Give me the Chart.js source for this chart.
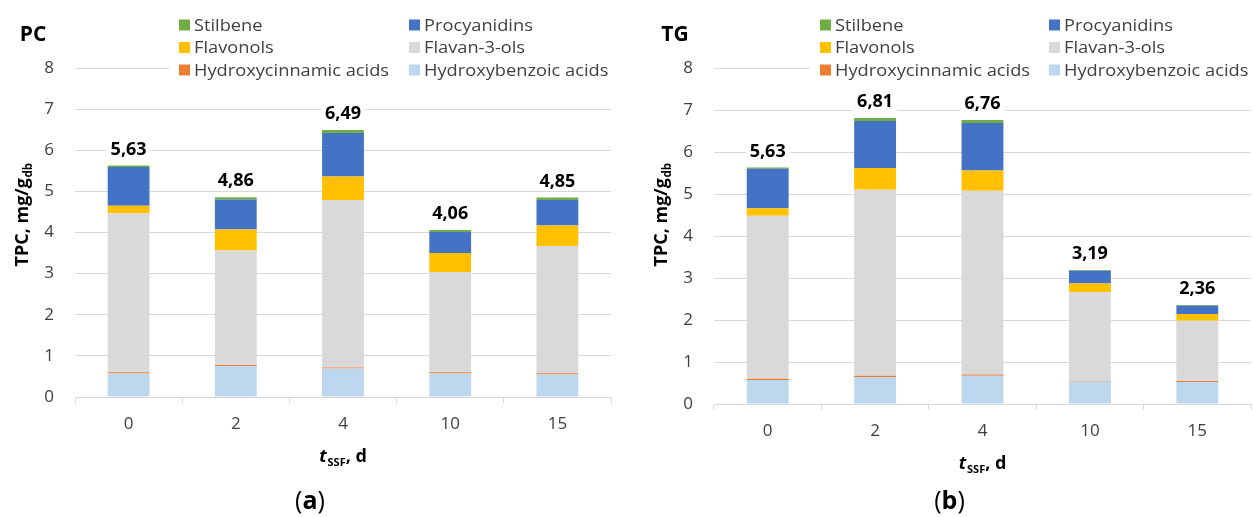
<!DOCTYPE html>
<html>
<head>
<meta charset="utf-8">
<script src="https://cdn.jsdelivr.net/npm/chart.js@4.4.1/dist/chart.umd.min.js"></script>
<style>
  html, body { margin: 0; padding: 0; background: #fff; }
  #wrap { position: relative; width: 1253px; height: 517px; overflow: hidden; background: #fff; }
  canvas { position: absolute; top: 0; }
</style>
</head>
<body>
<div id="wrap">
  <canvas id="pc" width="625" height="517" style="left:0px"></canvas>
  <canvas id="tg" width="628" height="517" style="left:625px"></canvas>
</div>
<script>
// Fermentation time (days) on the x axis
const days = ['0', '2', '4', '10', '15'];
const yTickMax = 8;

// Phenolic groups, stacked bottom to top
const groupNames = ['Hydroxybenzoic acids', 'Hydroxycinnamic acids', 'Flavan-3-ols', 'Flavonols', 'Procyanidins', 'Stilbene'];
const groupColors = ['#BDD7EE', '#ED7D31', '#D9D9D9', '#FFC000', '#4472C4', '#70AD47'];
// Legend reading order (row by row, two columns)
const legendOrder = ['Stilbene', 'Procyanidins', 'Flavonols', 'Flavan-3-ols', 'Hydroxycinnamic acids', 'Hydroxybenzoic acids'];

// PC, mg/g db
const pcHydroxybenzoic = [0.57, 0.75, 0.69, 0.57, 0.55];
const pcHydroxycinnamic = [0.03, 0.03, 0.03, 0.03, 0.03];
const pcFlavan3ols = [3.87, 2.78, 4.07, 2.44, 3.09];
const pcFlavonols = [0.18, 0.51, 0.57, 0.46, 0.50];
const pcProcyanidins = [0.94, 0.73, 1.06, 0.51, 0.62];
const pcStilbene = [0.04, 0.06, 0.07, 0.05, 0.06];

// TG, mg/g db
const tgHydroxybenzoic = [0.57, 0.64, 0.67, 0.53, 0.52];
const tgHydroxycinnamic = [0.03, 0.03, 0.03, 0.01, 0.03];
const tgFlavan3ols = [3.88, 4.43, 4.38, 2.12, 1.43];
const tgFlavonols = [0.18, 0.52, 0.48, 0.21, 0.16];
const tgProcyanidins = [0.94, 1.12, 1.13, 0.30, 0.20];
const tgStilbene = [0.03, 0.07, 0.07, 0.02, 0.02];

const FONT = "'Open Sans', 'Noto Sans', sans-serif";
const TEXT = '#404040';

// Titles, legend, axis titles with subscripts and stack totals
const decorations = {
  id: 'decorations',
  afterDraw(chart, args, o) {
    const ctx = chart.ctx;
    const area = chart.chartArea;
    const xs = chart.scales.x, ys = chart.scales.y;
    ctx.save();

    // panel name
    ctx.fillStyle = '#000';
    ctx.font = `bold 21px ${FONT}`;
    ctx.textAlign = 'center';
    ctx.textBaseline = 'middle';
    ctx.fillText(o.name, o.nameX, 35);

    // legend (two columns, covering the top gridline)
    ctx.fillStyle = '#fff';
    ctx.fillRect(o.legendX - 10, 58, area.right - (o.legendX - 10), 22);
    ctx.font = `16px ${FONT}`;
    ctx.textAlign = 'left';
    legendOrder.forEach((name, i) => {
      const col = i % 2, row = Math.floor(i / 2);
      const bx = col === 0 ? o.legendX : o.legendX2;
      const cy = 25 + row * 22.5;
      ctx.fillStyle = groupColors[groupNames.indexOf(name)];
      ctx.fillRect(bx, cy - 5.5, 11, 11);
      ctx.fillStyle = TEXT;
      ctx.save();
      ctx.translate(bx + 15, cy + 1);
      ctx.scale(1.14, 1);
      ctx.fillText(name, 0, 0);
      ctx.restore();
    });

    // y axis title: TPC, mg/g_db
    ctx.save();
    ctx.translate(area.left - 53, 215);
    ctx.rotate(-Math.PI / 2);
    ctx.fillStyle = '#000';
    ctx.textAlign = 'left';
    ctx.textBaseline = 'alphabetic';
    const mainF = `bold 18px ${FONT}`, subF = `bold 11.5px ${FONT}`;
    ctx.font = mainF; const w1 = ctx.measureText('TPC, mg/g').width;
    ctx.font = subF; const w2 = ctx.measureText('db').width;
    let x0 = -(w1 + w2) / 2;
    ctx.font = mainF; ctx.fillText('TPC, mg/g', x0, 6);
    ctx.font = subF; ctx.fillText('db', x0 + w1 + 0.5, 10);
    ctx.restore();

    // x axis title: t_SSF, d
    {
      const cx = (area.left + area.right) / 2;
      const by = area.bottom + 65;
      const fT = `italic bold 18px ${FONT}`, fS = `bold 11px ${FONT}`, fD = `bold 18px ${FONT}`;
      ctx.fillStyle = '#000';
      ctx.textBaseline = 'alphabetic';
      ctx.font = fT; const a = ctx.measureText('t').width;
      ctx.font = fS; const b = ctx.measureText('SSF').width;
      ctx.font = fD; const c = ctx.measureText(', d').width;
      let x = cx - (a + b + c + 1) / 2;
      ctx.font = fT; ctx.fillText('t', x, by); x += a + 1;
      ctx.font = fS; ctx.fillText('SSF', x, by + 4); x += b;
      ctx.font = fD; ctx.fillText(', d', x, by);
    }

    // panel letter (a) / (b)
    {
      const cx = (area.left + area.right) / 2 - 33;
      const by = 509;
      const fR = `25px ${FONT}`, fB = `bold 25px ${FONT}`;
      ctx.fillStyle = '#000';
      ctx.font = fR; const p = ctx.measureText('(').width, q = ctx.measureText(')').width;
      ctx.font = fB; const l = ctx.measureText(o.letter).width;
      let x = cx - (p + l + q) / 2;
      ctx.font = fR; ctx.fillText('(', x, by); x += p;
      ctx.font = fB; ctx.fillText(o.letter, x, by); x += l;
      ctx.font = fR; ctx.fillText(')', x, by);
    }

    // stack totals above each bar
    ctx.font = `bold 18px ${FONT}`;
    ctx.textAlign = 'center';
    ctx.textBaseline = 'middle';
    ctx.fillStyle = '#000';
    chart.data.labels.forEach((lab, i) => {
      const total = chart.data.datasets.reduce((s, d) => s + d.data[i], 0);
      const txt = total.toFixed(2).replace('.', ',');
      const px = xs.getPixelForValue(i);
      const py = ys.getPixelForValue(total) - 16;
      const tw = ctx.measureText(txt).width;
      ctx.save();
      ctx.fillStyle = '#fff';
      ctx.fillRect(px - tw / 2 - 4, py - 9, tw + 8, 18);
      ctx.restore();
      ctx.fillText(txt, px, py);
    });

    ctx.restore();
  }
};

function buildChart(id, series, opts) {
  const datasets = groupNames.map((name, i) => ({
    label: name,
    data: series[i],
    backgroundColor: groupColors[i],
    borderWidth: 0,
    barPercentage: 0.39,
    categoryPercentage: 1.0,
    stack: 'tpc'
  }));
  return new Chart(document.getElementById(id), {
    type: 'bar',
    data: { labels: days, datasets },
    plugins: [decorations],
    options: {
      responsive: false,
      animation: false,
      devicePixelRatio: 1,
      layout: { padding: { left: 0, top: 68, right: opts.padRight, bottom: 0 } },
      plugins: {
        legend: { display: false },
        tooltip: { enabled: false },
        decorations: opts.deco
      },
      scales: {
        x: {
          stacked: true,
          afterFit(s) { s.height = opts.xHeight; },
          grid: { offset: true, drawOnChartArea: false, drawTicks: true, tickLength: 6, color: '#D9D9D9', lineWidth: 1 },
          border: { display: true, color: '#D9D9D9', width: 1 },
          ticks: { padding: 11, color: TEXT, font: { family: FONT, size: 17 } }
        },
        y: {
          stacked: true,
          min: 0,
          max: yTickMax,
          afterFit(s) { s.width = opts.yWidth; },
          grid: { color: '#D9D9D9', lineWidth: 1, drawTicks: false },
          border: { display: false },
          ticks: { stepSize: 1, padding: 21, color: TEXT, font: { family: FONT, size: 17 } }
        }
      }
    }
  });
}

buildChart('pc',
  [pcHydroxybenzoic, pcHydroxycinnamic, pcFlavan3ols, pcFlavonols, pcProcyanidins, pcStilbene],
  { padRight: 14, xHeight: 120, yWidth: 75,
    deco: { name: 'PC', nameX: 33, letter: 'a', legendX: 179, legendX2: 409 } });

buildChart('tg',
  [tgHydroxybenzoic, tgHydroxycinnamic, tgFlavan3ols, tgFlavonols, tgProcyanidins, tgStilbene],
  { padRight: 2, xHeight: 113, yWidth: 89,
    deco: { name: 'TG', nameX: 50, letter: 'b', legendX: 195, legendX2: 424 } });
</script>
</body>
</html>
